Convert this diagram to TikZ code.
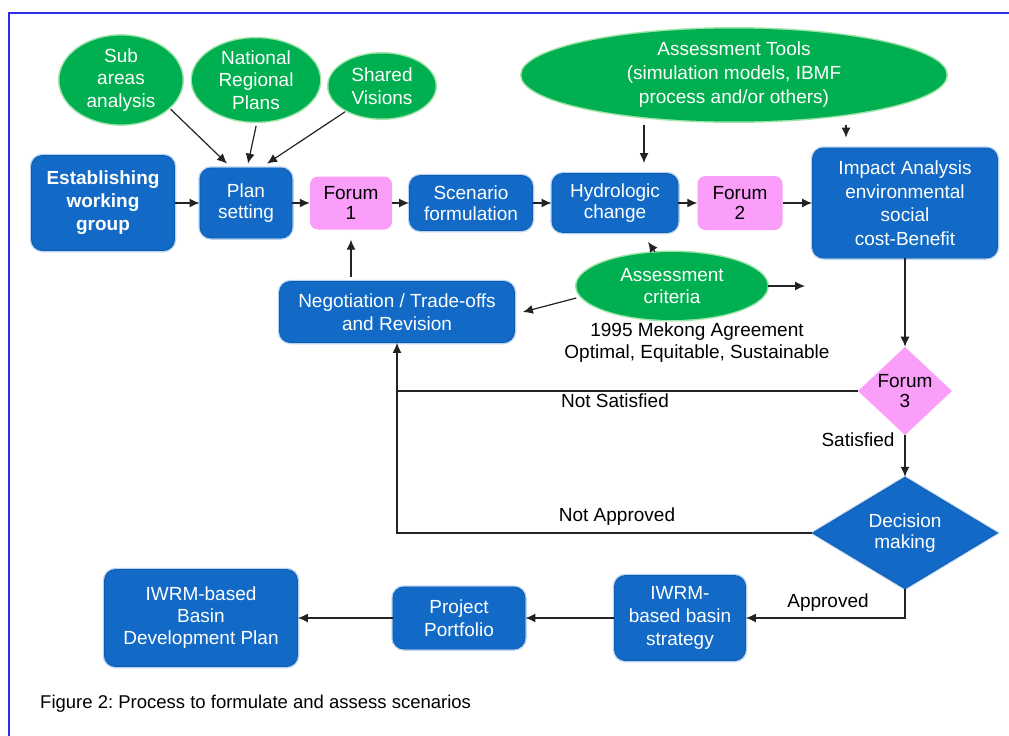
\documentclass[tikz,border=0pt]{standalone}
\usepackage{fontspec}
\setmainfont{Liberation Sans}
\usetikzlibrary{shapes.geometric,arrows.meta,calc}
\frenchspacing
\definecolor{boxblue}{RGB}{18,106,198}
\definecolor{boxedge}{RGB}{14,92,178}
\definecolor{glowblue}{RGB}{185,212,242}
\definecolor{pinkf}{RGB}{250,158,250}
\definecolor{greenf}{RGB}{0,176,80}
\definecolor{glowgreen}{RGB}{160,228,170}
\definecolor{arrowc}{RGB}{35,35,35}
\definecolor{frameblue}{RGB}{45,45,235}
\newcommand{\fnt}{\fontsize{19}{23}\selectfont}
\newcommand{\fntb}{\fontsize{19}{23}\selectfont\bfseries}
\newcommand{\fnte}{\fontsize{19}{22.5}\selectfont}
\begin{document}
\begin{tikzpicture}[x=1pt,y=-1pt,
  bbox/.style={rectangle, rounded corners=11pt, fill=boxblue, draw=boxedge, line width=0.8pt,
    preaction={draw=glowblue, line width=3.5pt}, text=white, align=center, inner sep=0pt, font=\fnt},
  pbox/.style={rectangle, rounded corners=8pt, fill=pinkf, text=black, align=center, inner sep=0pt, font=\fnt},
  gell/.style={ellipse, fill=greenf, preaction={draw=glowgreen, line width=3pt}, text=white, align=center, inner sep=0pt, font=\fnte},
  pdia/.style={diamond, fill=pinkf, text=black, align=center, inner sep=0pt, font=\fnt},
  bdia/.style={diamond, fill=boxblue, draw=boxedge, line width=0.8pt, preaction={draw=glowblue, line width=3pt}, text=white, align=center, inner sep=0pt, font=\fnt},
  arr/.style={-{Latex[length=10pt,width=9pt]}, line width=1.2pt, draw=arrowc},
  plainline/.style={line width=1.2pt, draw=arrowc},
  lbl/.style={text=black, align=center, inner sep=0pt, font=\fontsize{19}{22}\selectfont}
]
\useasboundingbox (0,0) rectangle (1009,736);
\fill[white] (0,0) rectangle (1009,736);
\draw[frameblue, line width=1.3pt] (9,736) -- (9,13) -- (1009,13);

% ellipses
\node[gell, minimum width=123pt, minimum height=66pt] (sub) at (121,80) {Sub\\areas\\analysis};
\node[gell, minimum width=128pt, minimum height=75pt] (nat) at (256,80) {National\\Regional\\Plans};
\node[gell, minimum width=107pt, minimum height=65pt] (shared) at (382,86) {Shared\\Visions};
\node[gell, minimum width=425pt, minimum height=74pt, font=\fontsize{19}{24}\selectfont] (tools) at (734,75) {Assessment Tools\\(simulation models, IBMF\\process and/or others)};
\node[gell, minimum width=191pt, minimum height=68pt] (crit) at (672,286) {Assessment\\criteria};

% main row
\node[bbox, minimum width=143pt, minimum height=95pt, font=\fntb] (est) at (103,203) {Establishing\\working\\group};
\node[bbox, minimum width=92pt, minimum height=70pt, font=\fontsize{19}{21}\selectfont] (plan) at (246,203) {Plan\\setting};
\node[pbox, minimum width=82pt, minimum height=53pt, font=\fontsize{19}{20}\selectfont] (f1) at (351,203) {Forum\\1};
\node[bbox, minimum width=123pt, minimum height=55pt, font=\fontsize{19}{21}\selectfont] (scen) at (471,203) {Scenario\\formulation};
\node[bbox, minimum width=126pt, minimum height=59pt, font=\fontsize{19}{21}\selectfont] (hydro) at (615,203) {Hydrologic\\change};
\node[pbox, minimum width=85pt, minimum height=54pt, font=\fontsize{19}{20}\selectfont] (f2) at (740,203) {Forum\\2};
\node[bbox, minimum width=185pt, minimum height=110pt, font=\fontsize{19}{23.5}\selectfont] (impact) at (905,203) {Impact Analysis\\environmental\\social\\cost-Benefit};

\node[bbox, minimum width=235pt, minimum height=61pt] (neg) at (397,312) {Negotiation / Trade-offs\\and Revision};
\node[lbl] (mek) at (697,343) {1995 Mekong Agreement\\Optimal, Equitable, Sustainable};

% diamonds
\node[pdia, minimum width=94pt, minimum height=62pt, font=\fontsize{19}{20}\selectfont] (f3) at (905,391) {Forum\\3};
\node[bdia, minimum width=185pt, minimum height=110pt, font=\fontsize{19}{21}\selectfont] (dec) at (905,533) {Decision\\making};

% bottom row
\node[bbox, minimum width=131pt, minimum height=85pt] (strat) at (680,618) {IWRM-\\based basin\\strategy};
\node[bbox, minimum width=132pt, minimum height=62pt] (pp) at (459,618) {Project\\Portfolio};
\node[bbox, minimum width=193pt, minimum height=97pt, font=\fontsize{19}{22}\selectfont] (bdp) at (201,618) {IWRM-based\\Basin\\Development Plan};

% labels
\node[lbl] (ns) at (615,401) {Not Satisfied};
\node[lbl] (sat) at (858,440) {Satisfied};
\node[lbl] (na) at (617,517) {Not Approved};
\node[lbl] (app) at (828,603) {Approved};
\node[anchor=west, inner sep=0pt, font=\fontsize{18.5}{22}\selectfont] (cap) at (40,704) {Figure 2: Process to formulate and assess scenarios};

% helper coordinates
\coordinate (t1) at (644,0);
\coordinate (t2) at (846,0);
\coordinate (j1) at (397,391);
\coordinate (j2) at (397,533);
\coordinate (critout) at (805,286);

% connectors
\draw[arr, shorten <=2pt] (sub.-30) -- ([xshift=-19pt,yshift=4pt]plan.north);
\draw[arr, shorten <=4pt] ([xshift=1pt]nat.south) -- ([xshift=2pt,yshift=4pt]plan.north);
\draw[arr, shorten <=2pt] (shared.215) -- ([xshift=21pt,yshift=4pt]plan.north);

\draw[arr] (est.east) -- (plan.west);
\draw[arr] (plan.east) -- (f1.west);
\draw[arr] (f1.east) -- (scen.west);
\draw[arr] (scen.east) -- (hydro.west);
\draw[arr] (hydro.east) -- (f2.west);
\draw[arr] (f2.east) -- (impact.west);

\draw[arr, shorten <=3pt, shorten >=10pt] (tools.south -| t1) -- (hydro.north -| t1);
\draw[arr, shorten <=3pt, shorten >=10pt] (tools.south -| t2) -- (impact.north -| t2);

\draw[arr] ([xshift=-17pt]crit.north) -- ([xshift=33pt,yshift=-9pt]hydro.south);
\draw[arr] ([yshift=-12pt]crit.west) -- ([xshift=8pt]neg.east);
\draw[arr] (crit.east) -- (critout);

\draw[arr, shorten <=4pt, shorten >=10pt] (neg.north -| f1) -- (f1.south);

\draw[arr] (impact.south) -- (f3.north);
\draw[arr] (f3.south) -- (dec.north);
\draw[plainline] (f3.west) -- (j1);
\draw[arr] (dec.west) -- (j2) -- (neg.south);
\draw[arr] (dec.south) |- (strat.east);
\draw[arr] (strat.west) -- (pp.east);
\draw[arr] (pp.west) -- (bdp.east);
\end{tikzpicture}
\end{document}
